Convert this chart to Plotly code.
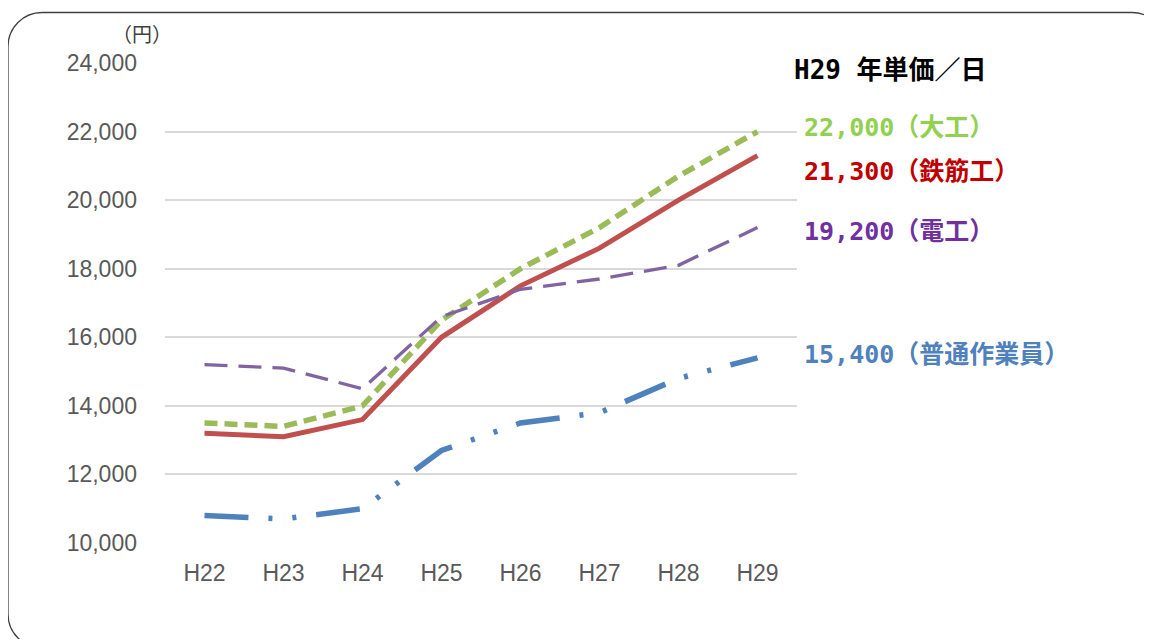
import plotly.graph_objects as go

years = ["H22", "H23", "H24", "H25", "H26", "H27", "H28", "H29"]
daiku = [13500, 13400, 14000, 16500, 18000, 19200, 20700, 22000]      # 大工
tekkin = [13200, 13100, 13600, 16000, 17500, 18600, 20000, 21300]     # 鉄筋工
denko = [15200, 15100, 14500, 16600, 17400, 17700, 18100, 19200]      # 電工
futsu = [10800, 10700, 11000, 12700, 13500, 13800, 14800, 15400]      # 普通作業員

names = ["大工", "鉄筋工", "電工", "普通作業員"]
y_ticks = [10000, 12000, 14000, 16000, 18000, 20000, 22000, 24000]
unit_label = "（円）"
side_title = "H29 年単価／日"

W, H = 1152, 639
OFF = 8  # page body margin
# plot area in screen pixels: x 165..797, y 63..543
L, T = 165 - OFF, 63 - OFF
PW, PH = 632, 480
R, B = W - L - PW, H - T - PH


def px(x):
    return (x - OFF - L) / PW


def py(y):
    return (T + PH - (y - OFF)) / PH


fig = go.Figure()

series = [
    (futsu, names[3], "#4F81BD", 5.5, "44px,20px,4px,20px,4px,20px"),
    (tekkin, names[1], "#C0504D", 5, "solid"),
    (daiku, names[0], "#9BBB59", 5.5, "13px,7px"),
    (denko, names[2], "#8064A2", 3.3, "23px,11px"),
]
for vals, nm, col, w, dash in series:
    fig.add_trace(go.Scatter(x=years, y=vals, name=nm, mode="lines",
                             line=dict(color=col, width=w, dash=dash),
                             hoverinfo="x+y"))

tick_font = dict(family="Liberation Sans, Arial, sans-serif", size=23, color="#595959")

fig.update_layout(
    width=W, height=H,
    margin=dict(l=L, r=R, t=T, b=B, autoexpand=False),
    paper_bgcolor="white", plot_bgcolor="white",
    showlegend=False,
    xaxis=dict(type="category", range=[-0.5, 7.5], showgrid=False, zeroline=False,
               showline=False, ticks="", tickfont=tick_font, ticklabelstandoff=14,
               fixedrange=True),
    yaxis=dict(range=[10000, 24000], tickvals=y_ticks, tickformat=",",
               showgrid=True, gridcolor="#D9D9D9", gridwidth=1.5, zeroline=False,
               showline=False, ticks="", tickfont=tick_font, ticklabelstandoff=27,
               fixedrange=True),
)

# rounded frame
k = 0.5523
r = 34
x0, y0, x1, y1 = 8, 12.5, 1166, 648


def P(x, y):
    return f"{px(x):.5f},{py(y):.5f}"


path = (
    f"M {P(x0, y0 + r)} "
    f"C {P(x0, y0 + r - k * r)} {P(x0 + r - k * r, y0)} {P(x0 + r, y0)} "
    f"L {P(x1 - r, y0)} "
    f"C {P(x1 - r + k * r, y0)} {P(x1, y0 + r - k * r)} {P(x1, y0 + r)} "
    f"L {P(x1, y1 - r)} "
    f"C {P(x1, y1 - r + k * r)} {P(x1 - r + k * r, y1)} {P(x1 - r, y1)} "
    f"L {P(x0 + r, y1)} "
    f"C {P(x0 + r - k * r, y1)} {P(x0, y1 - r + k * r)} {P(x0, y1 - r)} Z"
)
fig.add_shape(type="path", path=path, xref="paper", yref="paper",
              line=dict(color="#404040", width=1.3), layer="above")

cjk = "DejaVu Sans Mono, Noto Sans CJK JP, sans-serif"

fig.add_annotation(x=px(142), y=py(35), xref="paper", yref="paper", text=unit_label,
                   showarrow=False, xanchor="center", yanchor="middle",
                   font=dict(family=cjk, size=20, color="#404040"))

fig.add_annotation(x=px(792), y=py(70), xref="paper", yref="paper",
                   text=f"<b>{side_title}</b>", showarrow=False,
                   xanchor="left", yanchor="middle",
                   font=dict(family=cjk, size=26, color="#000000"))

labels = [
    (daiku[-1], names[0], "#92D050", 128),
    (tekkin[-1], names[1], "#C00000", 171),
    (denko[-1], names[2], "#7030A0", 231),
    (futsu[-1], names[3], "#4F81BD", 354),
]
for v, nm, col, ypix in labels:
    fig.add_annotation(x=px(802), y=py(ypix), xref="paper", yref="paper",
                       text=f"<b>{v:,}（{nm}）</b>", showarrow=False,
                       xanchor="left", yanchor="middle",
                       font=dict(family=cjk, size=25, color=col))

fig.write_html("out.html")
